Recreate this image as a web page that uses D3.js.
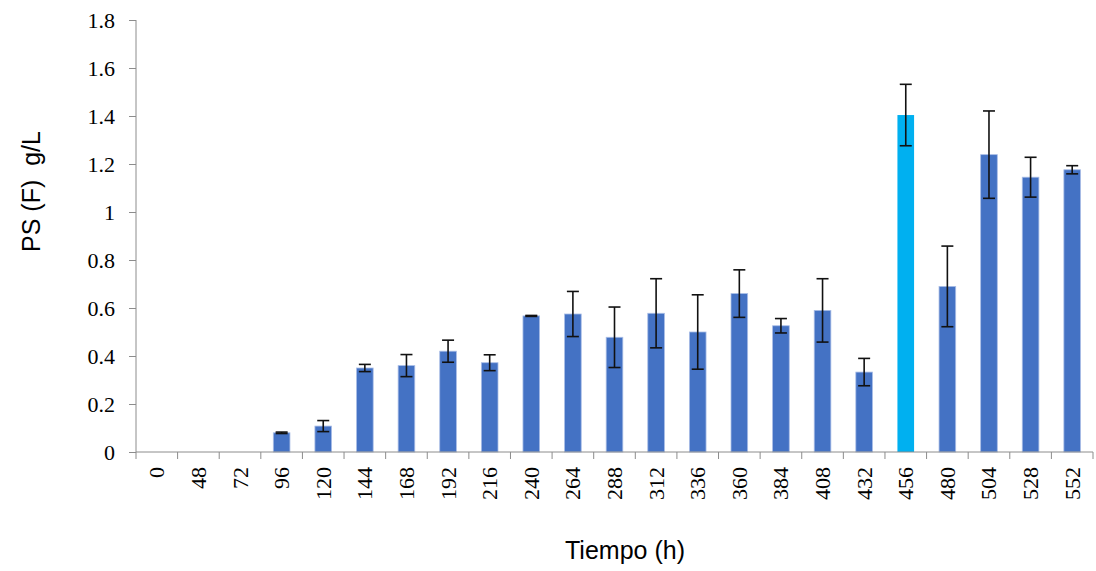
<!DOCTYPE html>
<html>
<head>
<meta charset="utf-8">
<script src="https://cdn.jsdelivr.net/npm/d3@7"></script>
<style>
  body { margin: 0; background: #fff; }
  svg { display: block; }
  .serif { font-family: 'Liberation Serif', 'Times New Roman', 'DejaVu Serif', serif; }
  .sans { font-family: 'Liberation Sans', Arial, sans-serif; }
</style>
</head>
<body>
<div id="chart"></div>
<script>
// data
const hours = ['0', '48', '72', '96', '120', '144', '168', '192', '216', '240', '264', '288',
  '312', '336', '360', '384', '408', '432', '456', '480', '504', '528', '552'];
const psValues = [0, 0, 0, 0.080, 0.108, 0.350, 0.360, 0.420, 0.372, 0.567, 0.575, 0.478,
  0.578, 0.500, 0.660, 0.526, 0.590, 0.333, 1.404, 0.690, 1.239, 1.145, 1.176];
const psErrors = [0, 0, 0, 0.003, 0.023, 0.015, 0.046, 0.046, 0.033, 0.002, 0.094, 0.126,
  0.144, 0.155, 0.099, 0.030, 0.132, 0.057, 0.128, 0.168, 0.182, 0.083, 0.017];
const highlightHour = '456';
const yTicks = [0, 0.2, 0.4, 0.6, 0.8, 1, 1.2, 1.4, 1.6, 1.8];

const w = 1096, h = 571;
const padL = 136, padR = 1093, padT = 20, padB = 452;

const rows = hours.map((hr, i) => ({ hr, v: psValues[i], e: psErrors[i] }));

const svg = d3.select('#chart').append('svg')
  .attr('width', w)
  .attr('height', h);

const xScale = d3.scaleBand()
  .domain(hours)
  .range([padL, padR])
  .paddingInner(0.6)
  .paddingOuter(0.3);

const yScale = d3.scaleLinear()
  .domain([0, 1.8])
  .range([padB, padT]);

// bars
svg.selectAll('rect.bar')
  .data(rows.filter(d => d.v > 0))
  .enter()
  .append('rect')
  .attr('class', 'bar')
  .attr('x', d => xScale(d.hr))
  .attr('width', xScale.bandwidth())
  .attr('y', d => yScale(d.v))
  .attr('height', d => yScale(0) - yScale(d.v))
  .attr('fill', d => d.hr === highlightHour ? '#00b0f0' : '#4472c4')
  .attr('stroke', d => d.hr === highlightHour ? 'none' : '#a9bde6')
  .attr('stroke-width', 0.8);

// error bars
const errG = svg.append('g').attr('stroke', '#111').attr('stroke-width', 1.6);
const withErr = rows.filter(d => d.v > 0);
const cx = d => xScale(d.hr) + xScale.bandwidth() / 2;
errG.selectAll('line.stem')
  .data(withErr)
  .enter().append('line')
  .attr('x1', cx).attr('x2', cx)
  .attr('y1', d => yScale(d.v + d.e))
  .attr('y2', d => yScale(d.v - d.e));
errG.selectAll('line.capTop')
  .data(withErr)
  .enter().append('line')
  .attr('x1', d => cx(d) - 6).attr('x2', d => cx(d) + 6)
  .attr('y1', d => yScale(d.v + d.e)).attr('y2', d => yScale(d.v + d.e));
errG.selectAll('line.capBot')
  .data(withErr)
  .enter().append('line')
  .attr('x1', d => cx(d) - 6).attr('x2', d => cx(d) + 6)
  .attr('y1', d => yScale(d.v - d.e)).attr('y2', d => yScale(d.v - d.e));

// Y-AXIS
const yAxis = d3.axisLeft(yScale).tickValues(yTicks).tickSize(7).tickPadding(14)
  .tickFormat(d => String(d));
const yG = svg.append('g')
  .attr('transform', 'translate(' + padL + ',0)')
  .call(yAxis)
  .attr('font-family', null)
  .attr('font-size', null);
yG.select('.domain').attr('stroke', '#8c8c8c').attr('d', 'M0,' + padT + 'V' + padB);
yG.selectAll('.tick line').attr('stroke', '#8c8c8c');
yG.selectAll('.tick text')
  .attr('class', 'serif')
  .style('font-size', '22px')
  .attr('fill', '#000');

// X-AXIS
const xG = svg.append('g')
  .attr('transform', 'translate(0,' + padB + ')');
xG.append('line')
  .attr('x1', padL).attr('x2', padR)
  .attr('stroke', '#8c8c8c');
const step = xScale.step();
const bounds = d3.range(hours.length + 1).map(i => padL + i * step);
xG.selectAll('line.tk')
  .data(bounds)
  .enter().append('line')
  .attr('x1', d => d).attr('x2', d => d)
  .attr('y1', 0).attr('y2', 7)
  .attr('stroke', '#8c8c8c');
xG.selectAll('text')
  .data(hours)
  .enter().append('text')
  .attr('class', 'serif')
  .attr('transform', d => 'translate(' + (xScale(d) + xScale.bandwidth() / 2 + 7.5) + ',15) rotate(-90)')
  .attr('text-anchor', 'end')
  .style('font-size', '22px')
  .attr('fill', '#000')
  .text(d => d);

// titles
svg.append('text')
  .attr('class', 'sans')
  .attr('transform', 'translate(40,191.5) rotate(-90)')
  .attr('text-anchor', 'middle')
  .style('font-size', '25px')
  .style('white-space', 'pre')
  .text('PS (F)  g/L');

svg.append('text')
  .attr('class', 'sans')
  .attr('x', 625)
  .attr('y', 559)
  .attr('text-anchor', 'middle')
  .style('font-size', '25px')
  .text('Tiempo (h)');
</script>
</body>
</html>
